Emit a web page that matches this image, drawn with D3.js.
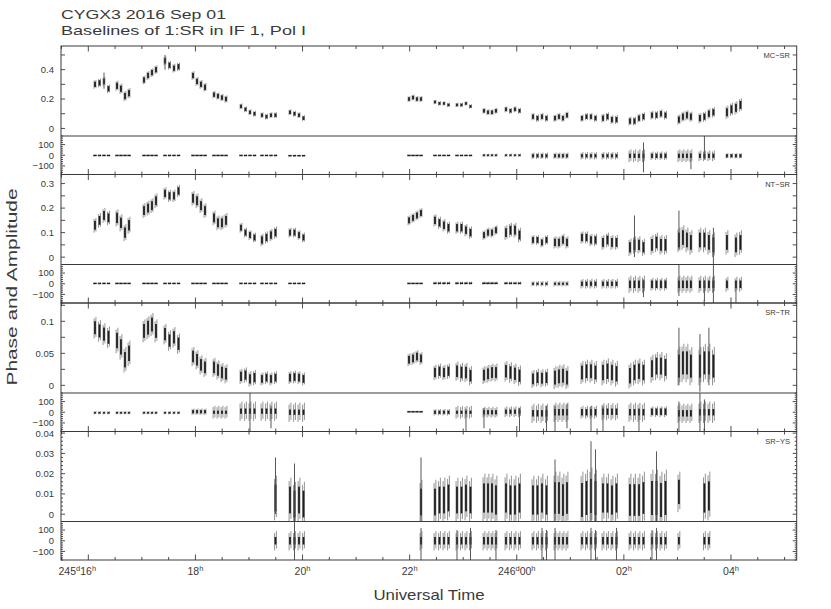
<!DOCTYPE html>
<html><head><meta charset="utf-8">
<script src="https://cdn.jsdelivr.net/npm/d3@7"></script>
<style>
body{margin:0;background:#fff}
svg{display:block}
text{font-family:"Liberation Sans",Arial,sans-serif;fill:#3a3a3a}
</style>
</head><body><svg id="c" width="831" height="609"></svg>
<script>
// ---------------- DATA ----------------
const titleLine1 = "CYGX3  2016 Sep 01";
const titleLine2 = "Baselines of 1:SR in IF 1, Pol I";
const yTitle = "Phase and Amplitude";
const xTitle = "Universal Time";
const baselines = ["MC\u2212SR", "NT\u2212SR", "SR\u2212TR", "SR\u2212YS"];

// scan centre times (hours from 245d00h), 23 groups of 4 scans
const scanTimes = [
 16.125,16.209,16.293,16.377, 16.536,16.610,16.685,16.760, 17.040,17.115,17.189,17.264,
 17.432,17.516,17.600,17.684, 17.955,18.030,18.104,18.179, 18.347,18.421,18.496,18.571,
 18.851,18.935,19.019,19.103, 19.243,19.327,19.411,19.495, 19.766,19.850,19.934,20.018,
 21.988,22.063,22.137,22.212, 22.473,22.557,22.641,22.725, 22.884,22.968,23.052,23.136,
 23.388,23.463,23.538,23.612, 23.799,23.883,23.967,24.051, 24.303,24.387,24.471,24.555,
 24.714,24.788,24.863,24.938, 25.218,25.302,25.386,25.470, 25.610,25.694,25.778,25.862,
 26.114,26.198,26.282,26.366, 26.525,26.609,26.693,26.777, 27.028,27.103,27.178,27.252,
 27.420,27.504,27.588,27.672, 27.925,28.009,28.093,28.177];

// amplitudes per scan (null = no data)
const ampMC = [
 0.30,0.31,0.32,0.27, 0.29,0.27,0.22,0.24, 0.33,0.36,0.38,0.40, 0.46,0.43,0.41,0.42,
 0.36,0.32,0.30,0.28, 0.23,0.22,0.21,0.20, 0.15,0.13,0.11,0.10, 0.09,0.08,0.09,0.09,
 0.11,0.10,0.09,0.07, 0.20,0.21,0.20,0.20, 0.18,0.17,0.17,0.16, 0.16,0.16,0.17,0.15,
 0.12,0.11,0.11,0.12, 0.13,0.12,0.13,0.12, 0.08,0.07,0.08,0.07, 0.07,0.08,0.07,0.09,
 0.07,0.08,0.08,0.07, 0.07,0.08,0.06,0.06, 0.05,0.05,0.07,0.08, 0.09,0.09,0.10,0.09,
 0.06,0.08,0.09,0.08, 0.07,0.08,0.10,0.11, 0.11,0.13,0.14,0.16];
const ampNT = [
 0.13,0.15,0.17,0.16, 0.16,0.14,0.10,0.13, 0.19,0.20,0.21,0.23, 0.26,0.25,0.25,0.27,
 0.24,0.23,0.21,0.19, 0.16,0.14,0.14,0.15, 0.12,0.10,0.09,0.08, 0.07,0.08,0.09,0.10,
 0.10,0.10,0.09,0.08, 0.15,0.16,0.17,0.18, 0.15,0.14,0.13,0.12, 0.12,0.12,0.11,0.10,
 0.09,0.10,0.10,0.11, 0.10,0.11,0.11,0.09, 0.07,0.07,0.06,0.07, 0.06,0.06,0.07,0.06,
 0.08,0.08,0.07,0.07, 0.06,0.07,0.06,0.06, 0.04,0.05,0.05,0.04, 0.05,0.06,0.05,0.05,
 0.07,0.08,0.07,0.06, 0.07,0.07,0.06,0.05, 0.06,null,0.05,0.06];
const ampTR = [
 0.090,0.085,0.080,0.075, 0.070,0.060,0.040,0.050, 0.085,0.090,0.095,0.085, 0.080,0.070,0.075,0.065,
 0.045,0.040,0.032,0.028, 0.028,0.024,0.020,0.018, 0.014,0.016,0.010,0.012, 0.010,0.012,0.010,0.012,
 0.012,0.013,0.012,0.010, 0.040,0.042,0.045,0.042, 0.020,0.022,0.020,0.022, 0.022,0.020,0.020,0.015,
 0.016,0.018,0.020,0.020, 0.022,0.020,0.018,0.015, 0.010,0.012,0.011,0.012, 0.012,0.014,0.015,0.012,
 0.020,0.022,0.022,0.020, 0.020,0.022,0.020,0.018, 0.015,0.020,0.022,0.020, 0.026,0.030,0.030,0.028,
 0.030,0.035,0.035,0.030, 0.030,0.035,0.035,0.030, null,null,null,null];
const ampYS = [
 null,null,null,null, null,null,null,null, null,null,null,null, null,null,null,null,
 null,null,null,null, null,null,null,null, null,null,null,null, null,null,null,0.008,
 0.007,0.005,0.007,0.005, null,null,null,0.006, 0.006,0.007,0.007,0.008, 0.007,0.007,0.008,0.007,
 0.008,0.008,0.008,0.007, 0.008,0.007,0.007,0.008, 0.007,0.007,0.008,0.007, 0.008,0.008,0.007,0.008,
 0.007,0.008,0.009,0.008, 0.008,0.008,0.007,0.008, 0.007,0.007,0.007,0.008, 0.008,0.008,0.007,0.008,
 0.011,null,null,null, null,0.008,0.009,null, null,null,null,null];

// amplitude error-bar half width per group
const ampErrMC = [0.03,0.035,0.03,0.03,0.03,0.025,0.02,0.02,0.02,0.02,0.015,0.015,0.02,0.02,0.025,0.025,0.025,0.03,0.03,0.03,0.035,0.035,0.045];
const ampErrNT = [0.03,0.035,0.03,0.025,0.03,0.03,0.02,0.025,0.02,0.02,0.025,0.025,0.02,0.03,0.02,0.025,0.025,0.03,0.035,0.04,0.05,0.05,0.05];
const ampErrTR = [0.017,0.02,0.018,0.016,0.015,0.015,0.012,0.01,0.01,0.01,0.012,0.015,0.014,0.016,0.014,0.018,0.018,0.02,0.02,0.022,0.03,0.03,0];
const ampErrYS = [0,0,0,0,0,0,0,0.011,0.011,0.011,0.011,0.011,0.012,0.012,0.012,0.013,0.014,0.012,0.013,0.014,0.01,0.012,0];

// phase (deg) per group: centre, core half width, whisker half width
const phMidMC  = [0,0,0,0,0,0,0,0,-2,0,0,0,0,0,-5,-5,-5,-5,-5,-5,-5,-5,-5];
const phCoreMC = [4,4,4,4,4,4,4,4,4,4,4,4,8,8,15,15,15,15,20,20,20,20,15];
const phWhMC   = [8,8,8,8,8,8,8,8,8,8,8,8,15,15,30,30,35,35,60,40,60,50,25];
const phMidNT  = [5,5,5,5,5,5,5,5,5,5,5,5,5,5,0,0,0,0,-5,-5,-5,-5,-5];
const phCoreNT = [4,4,4,4,4,4,4,4,4,4,6,6,6,6,10,10,20,20,35,35,35,35,35];
const phWhNT   = [8,8,8,8,8,8,8,8,8,8,15,15,15,15,25,25,45,45,80,60,80,80,70];
const phMidTR  = [-5,-5,-5,-5,5,0,10,10,0,5,0,0,0,5,-10,0,0,5,0,5,-10,0,0];
const phCoreTR = [8,8,8,8,15,15,25,25,25,6,15,15,20,20,30,30,30,30,30,30,30,30,0];
const phWhTR   = [15,15,15,15,30,60,90,90,90,10,30,60,50,50,90,90,60,80,90,50,90,100,0];
const phMidYS  = [0,0,0,0,0,0,0,0,0,0,0,0,0,0,0,0,0,0,0,0,0,0,0];
const phCoreYS = [0,0,0,0,0,0,0,35,35,35,35,35,35,35,35,35,35,35,35,35,35,35,0];
const phWhYS   = [0,0,0,0,0,0,0,90,90,90,90,90,90,90,90,90,90,90,90,90,90,90,0];

// isolated long error bars: [scan index, low, high]
const ampSpikesMC = [[2,0.27,0.38],[12,0.40,0.50]];
const ampSpikesNT = [[80,0.03,0.19],[87,-0.03,0.12],[73,0.0,0.17]];
const ampSpikesTR = [[80,0.0,0.09],[84,-0.01,0.08],[86,0.0,0.09]];
const ampSpikesYS = [[39,-0.004,0.028],[60,-0.004,0.027],[66,-0.004,0.036],[67,-0.004,0.032],[77,-0.004,0.031],[31,0,0.028],[33,-0.004,0.025]];
const phSpikesMC = [[75,-160,120],[85,-40,180],[83,-130,20]];
const phSpikesNT = [[75,-125,40],[80,-115,180],[85,-160,30],[87,-180,180],[90,-180,20]];
const phSpikesTR = [[26,-180,180],[30,-150,60],[46,-180,30],[48,-150,40],[55,-180,40],[59,-180,60],[60,-180,60],[63,-150,80],[66,-180,60],[68,-180,60],[74,-180,40],[80,-180,100],[84,-180,180],[85,-180,120]];
const phSpikesYS = [[33,-180,180],[39,-180,120],[44,-180,100],[47,-180,120],[51,-180,100],[58,-180,120],[59,-180,100],[60,-180,120],[66,-180,120],[67,-180,100],[71,-180,120],[76,-180,100],[77,-180,120]];

// axes
const xDomain = [15.49, 29.227];
const ampDomains = [[-0.0515,0.561],[-0.030,0.337],[-0.012,0.1286],[-0.0036,0.0408]];
const ampLabelTicks = [[0,0.2,0.4],[0,0.1,0.2,0.3],[0,0.05,0.1],[0,0.01,0.02,0.03,0.04]];
const ampLabelText  = [["0","0.2","0.4"],["0","0.1","0.2","0.3"],["0","0.05","0.1"],["0","0.01","0.02","0.03","0.04"]];
const ampMinorTicks = [[0.1,0.3,0.5],[0.05,0.15,0.25],[0.025,0.075,0.125],
  [0.002,0.004,0.006,0.008,0.012,0.014,0.016,0.018,0.022,0.024,0.026,0.028,0.032,0.034,0.036,0.038]];
const phLabelTicks = [-100,0,100];
const phLabelText = ["\u2212100","0","100"];
const phMinorTicks = [-180,-160,-140,-120,-80,-60,-40,-20,20,40,60,80,120,140,160,180];
const xMajorTicks = [16,18,20,22,24,26,28];
const xDayText = ["245","","","","246","",""];
const xHourText = ["16","18","20","22","00","02","04"];
const xMinorTicks = [15.5,16.5,17,17.5,18.5,19,19.5,20.5,21,21.5,22.5,23,23.5,24.5,25,25.5,26.5,27,27.5,28.5,29];

// ---------------- DRAW ----------------
const svg = d3.select("#c");
const L = 61, R = 796.7, T0 = 46, PH = 128.5, AH = 90;
const x = d3.scaleLinear().domain(xDomain).range([L, R]);
const ink = "#1e1e1e", whisk = "#666", frame = "#3a3a3a";

svg.append("text").attr("x", 61).attr("y", 19).attr("font-size", 13.5)
  .attr("textLength", 165).attr("lengthAdjust", "spacingAndGlyphs").text(titleLine1);
svg.append("text").attr("x", 61).attr("y", 35).attr("font-size", 13.5)
  .attr("textLength", 245).attr("lengthAdjust", "spacingAndGlyphs").text(titleLine2);

const amps = [ampMC, ampNT, ampTR, ampYS];
const ampErrs = [ampErrMC, ampErrNT, ampErrTR, ampErrYS];
const phMids = [phMidMC, phMidNT, phMidTR, phMidYS];
const phCores = [phCoreMC, phCoreNT, phCoreTR, phCoreYS];
const phWhs = [phWhMC, phWhNT, phWhTR, phWhYS];
const ampSp = [ampSpikesMC, ampSpikesNT, ampSpikesTR, ampSpikesYS];
const phSp = [phSpikesMC, phSpikesNT, phSpikesTR, phSpikesYS];

const defs = svg.append("defs");

baselines.forEach((name, p) => {
  const top = T0 + p * PH, mid = top + AH, bot = top + PH;
  const ya = d3.scaleLinear().domain(ampDomains[p]).range([mid, top]);
  const yp = d3.scaleLinear().domain([-180, 180]).range([bot, mid]);

  defs.append("clipPath").attr("id", "ca" + p).append("rect")
    .attr("x", L).attr("y", top).attr("width", R - L).attr("height", AH);
  defs.append("clipPath").attr("id", "cp" + p).append("rect")
    .attr("x", L).attr("y", mid).attr("width", R - L).attr("height", PH - AH);

  const ga = svg.append("g").attr("clip-path", `url(#ca${p})`);
  const gp = svg.append("g").attr("clip-path", `url(#cp${p})`);

  scanTimes.forEach((t, i) => {
    const v = amps[p][i];
    if (v === null) return;
    const g = Math.floor(i / 4);
    const xc = x(t);
    const e = ampErrs[p][g], c = e * 0.6;
    [-0.9, 0.9].forEach((dx, k) => {
      ga.append("line").attr("x1", xc + dx).attr("x2", xc + dx)
        .attr("y1", ya(v - e * (k ? 0.85 : 1))).attr("y2", ya(v + e * (k ? 1 : 0.85)))
        .attr("stroke", whisk).attr("stroke-width", 0.7);
    });
    ga.append("rect").attr("x", xc - 0.9).attr("width", 1.8)
      .attr("y", ya(v + c)).attr("height", Math.max(1.5, ya(v - c) - ya(v + c)))
      .attr("fill", ink);
    const pm = phMids[p][g], pc = phCores[p][g], pw = phWhs[p][g];
    [-0.9, 0.9].forEach((dx, k) => {
      gp.append("line").attr("x1", xc + dx).attr("x2", xc + dx)
        .attr("y1", yp(pm - pw * (k ? 0.8 : 1))).attr("y2", yp(pm + pw * (k ? 1 : 0.8)))
        .attr("stroke", whisk).attr("stroke-width", 0.7);
    });
    const pwid = pc <= 6 ? 3.4 : 1.8;
    gp.append("rect").attr("x", xc - pwid / 2).attr("width", pwid)
      .attr("y", yp(pm + pc)).attr("height", Math.max(1.4, yp(pm - pc) - yp(pm + pc)))
      .attr("fill", ink);
  });
  ampSp[p].forEach(([i, lo, hi]) => {
    ga.append("line").attr("x1", x(scanTimes[i])).attr("x2", x(scanTimes[i]))
      .attr("y1", ya(lo)).attr("y2", ya(hi)).attr("stroke", "#444").attr("stroke-width", 0.9);
  });
  phSp[p].forEach(([i, lo, hi]) => {
    gp.append("line").attr("x1", x(scanTimes[i])).attr("x2", x(scanTimes[i]))
      .attr("y1", yp(lo)).attr("y2", yp(hi)).attr("stroke", "#444").attr("stroke-width", 0.9);
  });

  svg.append("rect").attr("x", L).attr("y", top).attr("width", R - L).attr("height", PH)
    .attr("fill", "none").attr("stroke", frame).attr("stroke-width", 1);
  svg.append("line").attr("x1", L).attr("x2", R).attr("y1", mid).attr("y2", mid)
    .attr("stroke", frame).attr("stroke-width", 1);

  const tk = svg.append("g").attr("stroke", frame).attr("stroke-width", 0.9);
  xMajorTicks.forEach(t => {
    tk.append("line").attr("x1", x(t)).attr("x2", x(t)).attr("y1", top).attr("y2", top + 5.5);
    tk.append("line").attr("x1", x(t)).attr("x2", x(t)).attr("y1", bot).attr("y2", bot - 5.5);
  });
  xMinorTicks.forEach(t => {
    tk.append("line").attr("x1", x(t)).attr("x2", x(t)).attr("y1", top).attr("y2", top + 3);
    tk.append("line").attr("x1", x(t)).attr("x2", x(t)).attr("y1", bot).attr("y2", bot - 3);
  });
  const yTick = (yy, len) => {
    tk.append("line").attr("x1", L).attr("x2", L + len).attr("y1", yy).attr("y2", yy);
    tk.append("line").attr("x1", R).attr("x2", R - len).attr("y1", yy).attr("y2", yy);
  };
  ampLabelTicks[p].forEach(v => { if (ya(v) >= top - 0.5) yTick(ya(v), 4); });
  ampMinorTicks[p].forEach(v => { if (ya(v) >= top && ya(v) <= mid) yTick(ya(v), p === 3 ? 2 : 4); });
  phLabelTicks.forEach(v => yTick(yp(v), 4));
  phMinorTicks.forEach(v => yTick(yp(v), 2));

  ampLabelTicks[p].forEach((v, k) => {
    svg.append("text").attr("x", 54).attr("y", ya(v) + 3.4).attr("text-anchor", "end")
      .attr("font-size", 9.5).text(ampLabelText[p][k]);
  });
  phLabelTicks.forEach((v, k) => {
    svg.append("text").attr("x", 54).attr("y", yp(v) + 3.4).attr("text-anchor", "end")
      .attr("font-size", 9.5).text(phLabelText[k]);
  });
  svg.append("text").attr("x", 790).attr("y", top + 12.3).attr("text-anchor", "end")
    .attr("font-size", 7.5).text(name);

  if (p === 3) {
    xMajorTicks.forEach((t, k) => {
      const tx = svg.append("text").attr("x", x(t) + (k === 0 ? -11 : 0)).attr("y", bot + 15)
        .attr("text-anchor", "middle").attr("font-size", 10.5);
      if (xDayText[k]) {
        tx.append("tspan").text(xDayText[k]);
        tx.append("tspan").attr("font-size", 7.5).attr("dy", -4).text("d");
        tx.append("tspan").attr("dy", 4).text(xHourText[k]);
      } else {
        tx.append("tspan").text(xHourText[k]);
      }
      tx.append("tspan").attr("font-size", 7.5).attr("dy", -4).text("h");
    });
  }
});

svg.append("text").attr("x", 429).attr("y", 600).attr("text-anchor", "middle")
  .attr("font-size", 15).attr("textLength", 111).attr("lengthAdjust", "spacingAndGlyphs").text(xTitle);
svg.append("text").attr("transform", "translate(17,287) rotate(-90)").attr("text-anchor", "middle")
  .attr("font-size", 15).attr("textLength", 197).attr("lengthAdjust", "spacingAndGlyphs").text(yTitle);
</script></body></html>
